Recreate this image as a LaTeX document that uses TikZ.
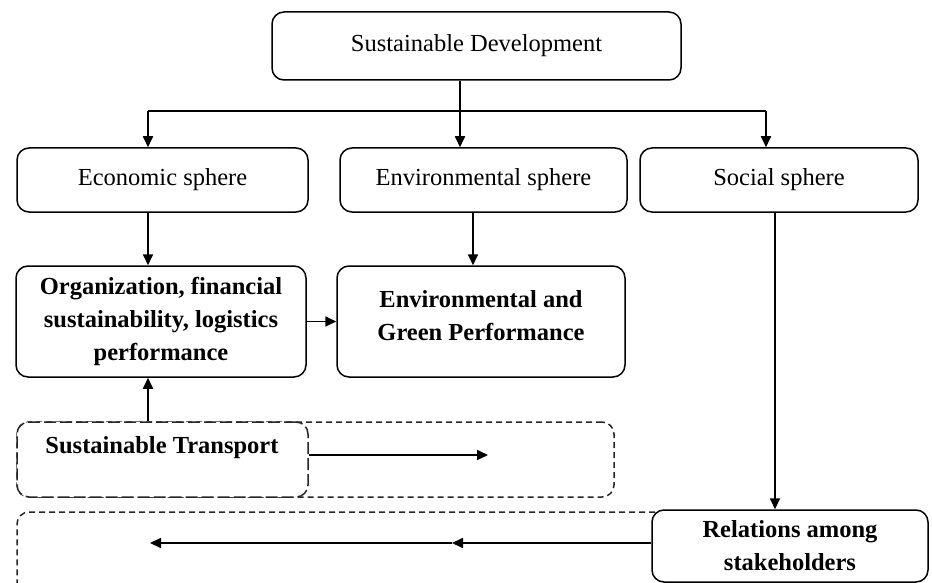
\documentclass[tikz,border=0pt]{standalone}
\usepackage{fontspec}
\setmainfont{Liberation Serif}
\usetikzlibrary{arrows.meta,calc}
\begin{document}
\begin{tikzpicture}[x=1pt,y=-1pt,
  box/.style={draw=black,line width=1.5pt,rounded corners=12pt,fill=white,inner sep=0pt,align=center,font=\fontsize{24.5}{33}\selectfont},
  bbox/.style={box,font=\fontsize{24.5}{33}\selectfont\bfseries},
  dshort/.style={draw=black!85,line width=1.5pt,rounded corners=12pt,dash pattern=on 6pt off 4pt,inner sep=0pt},
  dlong/.style={draw=black!85,line width=1.5pt,rounded corners=12pt,dash pattern=on 12pt off 4pt,inner sep=0pt},
  arr/.style={line width=1.7pt,-{Triangle[length=11pt,width=10pt]}},
  ln/.style={line width=1.7pt}]
\useasboundingbox (0,0) rectangle (932,583);
\clip (0,0) rectangle (932,583);
% column coordinates
\coordinate (xa) at (148,0);
\coordinate (xb) at (460,0);
\coordinate (xc) at (766,0);
\coordinate (xd) at (473,0);
\coordinate (xe) at (775,0);
\coordinate (bus) at (460,111);
% top
\node[box,minimum width=409pt,minimum height=68pt] (top) at (476.5,46) {Sustainable Development};
% spheres
\node[box,minimum width=291pt,minimum height=64pt] (econ) at (162.5,180) {Economic sphere};
\node[box,minimum width=287pt,minimum height=64pt] (envs) at (483.5,180) {Environmental sphere};
\node[box,minimum width=278pt,minimum height=64pt] (soc) at (779,180) {Social sphere};
% performance boxes
\node[bbox,minimum width=290pt,minimum height=111pt] (org) at (161,321.5) {Organization, financial\\sustainability, logistics\\performance};
\node[box,minimum width=288pt,minimum height=111pt] (eg) at (481,321.5) {};
\node[font=\fontsize{24.5}{33}\selectfont\bfseries,align=center,inner sep=0pt] (egt) at (481,316) {Environmental and\\Green Performance};
% dashed boxes
\node[dshort,minimum width=597pt,minimum height=75pt] (box1) at (315.5,459.5) {};
\node[dlong,fill=white,minimum width=291pt,minimum height=75pt] (st) at (162.5,459.5) {};
\node[font=\fontsize{24.5}{33}\selectfont\bfseries,inner sep=0pt] (stt) at (162,448) {Sustainable Transport};
\node[dshort,minimum width=700pt,minimum height=140pt] (box2) at (367,582) {};
\node[bbox,minimum width=276pt,minimum height=72pt] (rel) at (790,546) {Relations among\\stakeholders};
% connectors
\draw[arr] (top.south -| xb) -- (envs.north -| xb);
\draw[ln] (bus -| xa) -- (bus -| xc);
\draw[arr] (bus -| xa) -- (econ.north -| xa);
\draw[arr] (bus -| xc) -- (soc.north -| xc);
\draw[arr] (econ.south -| xa) -- (org.north -| xa);
\draw[arr] (envs.south -| xd) -- (eg.north -| xd);
\draw[arr] (org.east) -- (eg.west);
\draw[arr] (st.north -| xa) -- (org.south -| xa);
\coordinate (stend) at (488,455);
\draw[arr] (st.east |- stend) -- (stend);
\draw[arr] (soc.south -| xe) -- (rel.north -| xe);
\coordinate (relmid) at (452,543);
\coordinate (relend) at (150,543);
\draw[arr] (rel.west |- relmid) -- (relmid);
\draw[arr] (relmid) -- (relend);
\end{tikzpicture}
\end{document}
